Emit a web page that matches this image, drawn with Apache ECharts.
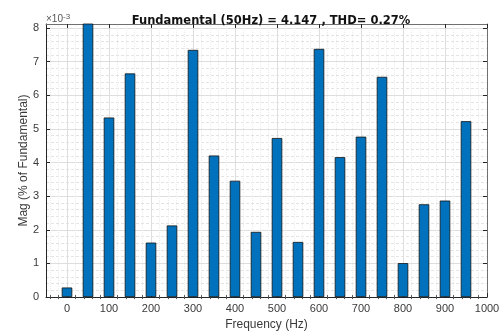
<!DOCTYPE html>
<html>
<head>
<meta charset="utf-8">
<script src="https://cdn.jsdelivr.net/npm/echarts@6/dist/echarts.min.js"></script>
<style>
  html, body { margin: 0; padding: 0; background: #ffffff; }
  #chart { width: 503px; height: 336px; }
</style>
</head>
<body>
<div id="chart"></div>
<script>
// Harmonic spectrum: magnitude of each component as % of the fundamental (scaled by 1e-3)
const frequencies = [0, 50, 100, 150, 200, 250, 300, 350, 400, 450,
                     500, 550, 600, 650, 700, 750, 800, 850, 900, 950];
const magnitudes = [0.285, 100, 5.34, 6.65, 1.62, 2.13, 7.35, 4.21, 3.46, 1.94,
                    4.73, 1.64, 7.38, 4.16, 4.77, 6.55, 1.01, 2.76, 2.87, 5.23];

// Axis tick positions
const xMajorTicks = [0, 100, 200, 300, 400, 500, 600, 700, 800, 900, 1000];
const xMinorTicks = [-40, -20, 20, 40, 60, 80, 120, 140, 160, 180, 220, 240, 260, 280,
                     320, 340, 360, 380, 420, 440, 460, 480, 520, 540, 560, 580,
                     620, 640, 660, 680, 720, 740, 760, 780, 820, 840, 860, 880,
                     920, 940, 960, 980];
const yMajorTicks = [0, 1, 2, 3, 4, 5, 6, 7, 8];

const titleText = 'Fundamental (50Hz) = 4.147 , THD= 0.27%';
const xName = 'Frequency (Hz)';
const yName = 'Mag (% of Fundamental)';

const axisColor = '#262626';
const frameColor = '#707070';
const labelColor = '#3a3a3a';
const font = 'Liberation Sans, Arial, Helvetica, sans-serif';

const chart = echarts.init(document.getElementById('chart'), null, { renderer: 'canvas' });

const X_MIN = -50, X_MAX = 1000, Y_MIN = 0, Y_MAX = 8.12;

function minorXAxis(position) {
  return {
    type: 'value', position: position, min: X_MIN, max: X_MAX,
    axisLine: { show: false },
    axisTick: { show: true, inside: true, length: 2, customValues: xMinorTicks, lineStyle: { color: '#555555' } },
    axisLabel: { show: false, customValues: xMinorTicks },
    splitLine: { show: position === 'bottom', lineStyle: { color: '#ececec', width: 1, type: [1, 1] } }
  };
}

chart.setOption({
  animation: false,
  backgroundColor: '#ffffff',
  title: {
    text: titleText,
    left: 266,
    textAlign: 'center',
    top: 10,
    textStyle: { fontFamily: 'DejaVu Sans, Verdana, sans-serif', fontSize: 11.5, fontWeight: 'bold', color: '#111111' }
  },
  grid: { left: 46, right: 16, top: 24, bottom: 36, containLabel: false },
  xAxis: [
    {
      type: 'value', position: 'bottom', min: X_MIN, max: X_MAX,
      name: xName, nameLocation: 'middle', nameGap: 21,
      nameTextStyle: { fontFamily: font, fontSize: 12, color: labelColor },
      axisLine: { show: true, onZero: false, lineStyle: { color: axisColor, width: 1 } },
      axisTick: { show: true, inside: true, length: 4, customValues: xMajorTicks, lineStyle: { color: axisColor } },
      axisLabel: { customValues: xMajorTicks, formatter: v => String(v), fontFamily: font, fontSize: 11, color: labelColor, margin: 6 },
      splitLine: { show: true, lineStyle: { color: '#dedede', width: 1 } }
    },
    minorXAxis('bottom'),
    {
      type: 'value', position: 'top', min: X_MIN, max: X_MAX,
      axisLine: { show: true, onZero: false, lineStyle: { color: frameColor, width: 1 } },
      axisTick: { show: true, inside: true, length: 4, customValues: xMajorTicks, lineStyle: { color: axisColor } },
      axisLabel: { show: false },
      splitLine: { show: false }
    },
    minorXAxis('top')
  ],
  yAxis: [
    {
      type: 'value', position: 'left', min: Y_MIN, max: Y_MAX, interval: 1,
      name: '×10{e|-3}', nameLocation: 'end', nameGap: -2,
      nameTextStyle: {
        fontFamily: font, fontSize: 10, color: '#555555', align: 'left', verticalAlign: 'bottom',
        rich: { e: { fontFamily: font, fontSize: 8, color: '#555555', verticalAlign: 'top', padding: [0, 0, 5, 0] } }
      },
      axisLine: { show: true, onZero: false, lineStyle: { color: axisColor, width: 1 } },
      axisTick: { show: true, inside: true, length: 4, customValues: yMajorTicks, lineStyle: { color: axisColor } },
      axisLabel: { customValues: yMajorTicks, fontFamily: font, fontSize: 11, color: labelColor, margin: 7 },
      splitLine: { show: true, lineStyle: { color: '#dedede', width: 1 } },
      minorTick: { show: false, splitNumber: 5 },
      minorSplitLine: { show: true, lineStyle: { color: '#e4e4e4', width: 1, type: [3, 2] } }
    },
    {
      type: 'value', position: 'right', min: Y_MIN, max: Y_MAX, interval: 1,
      axisLine: { show: true, onZero: false, lineStyle: { color: frameColor, width: 1 } },
      axisTick: { show: true, inside: true, length: 4, customValues: yMajorTicks, lineStyle: { color: axisColor } },
      axisLabel: { show: false },
      splitLine: { show: false }
    },
    {
      type: 'value', position: 'left', min: Y_MIN, max: Y_MAX, interval: 1,
      name: yName, nameLocation: 'middle', nameGap: 16,
      nameTextStyle: { fontFamily: font, fontSize: 12, color: labelColor },
      axisLine: { show: false }, axisTick: { show: false },
      axisLabel: { show: false }, splitLine: { show: false }
    }
  ],
  series: [
    {
      type: 'bar',
      xAxisIndex: 0, yAxisIndex: 0,
      data: frequencies.map((f, i) => [f, magnitudes[i]]),
      barWidth: 10.5,
      clip: true,
      itemStyle: { color: '#0072BD', borderColor: '#111111', borderWidth: 0.8 }
    }
  ]
});
</script>
</body>
</html>
